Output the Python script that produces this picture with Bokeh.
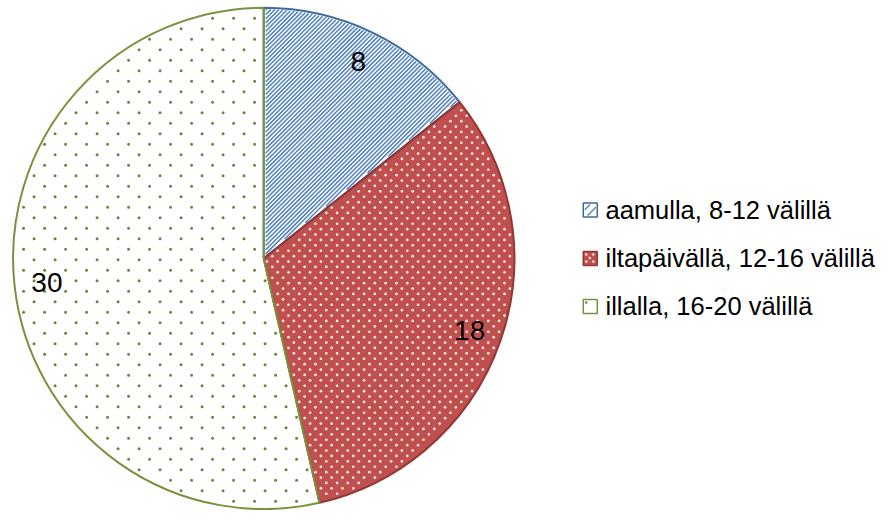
import math
import numpy as np
from bokeh.plotting import figure
from bokeh.core.properties import value
from bokeh.embed import file_html
from bokeh.resources import INLINE

categories = ["aamulla, 8-12 välillä", "iltapäivällä, 12-16 välillä", "illalla, 16-20 välillä"]
values = [8, 18, 30]
labels = ["8", "18", "30"]

W, H = 880, 510
SX, SY = W / 896, H / 526
CX, CY = 268 * SX, H - 266 * SY          # pie centre (data units == pixels)
R = 258.5 * SY
FONT = "Liberation Sans"

fill_colors = ["white", "#C0504D", "white"]
line_colors = ["#3F6A9E", "#943634", "#77933C"]
tex_colors = ["#4F81BD", "#FBE9E9", "#66863F"]
dot_sizes = [None, 2.7, 3.0]
dot_steps = [None, 10.8, 21.0]        # staggered dot lattice (None = diagonal stripes)
STRIPE_STEP = 4.2 / math.sqrt(2)

D = np.array([1.0, 1.0]) / math.sqrt(2)
N = np.array([-1.0, 1.0]) / math.sqrt(2)


def stripes(cx, cy, halfplanes, radius, extent, step):
    xs, ys = [], []
    for k in np.arange(-extent, extent, step):
        q0 = k * N
        lo, hi = -2 * extent, 2 * extent
        if radius is not None:
            if abs(k) >= radius:
                continue
            s = math.sqrt(radius ** 2 - k ** 2)
            lo, hi = -s, s
        for gx, gy, h in halfplanes:
            a = gx * q0[0] + gy * q0[1] - h
            b = gx * D[0] + gy * D[1]
            if abs(b) < 1e-12:
                if a > 0:
                    lo, hi = 1, 0
                continue
            t = -a / b
            if b > 0:
                hi = min(hi, t)
            else:
                lo = max(lo, t)
        if hi - lo > 0.5:
            p1, p2 = q0 + lo * D, q0 + hi * D
            xs.append([cx + p1[0], cx + p2[0]])
            ys.append([cy + p1[1], cy + p2[1]])
    return xs, ys


def lattice(x0, y0, x1, y1, step):
    pts = []
    j = 0
    y = y0
    while y >= y1:
        x = x0 + (step / 2 if j % 2 else 0)
        while x <= x1:
            pts.append((x, y))
            x += step
        y -= step / 2
        j += 1
    return np.array(pts)


p = figure(width=W, height=H, x_range=(0, W), y_range=(0, H), output_backend="svg",
           toolbar_location=None, min_border=0)
p.axis.visible = False
p.grid.visible = False
p.outline_line_color = None
p.background_fill_color = "white"

total = sum(values)
fracs = np.cumsum([0] + values) / total
angles = math.pi / 2 - 2 * math.pi * fracs

# wedge fills
for i in range(len(values)):
    p.wedge(x=CX, y=CY, radius=R, start_angle=angles[i], end_angle=angles[i + 1],
            direction="clock", fill_color=fill_colors[i], line_color=None)

# wedge textures
M = 2.0
for i in range(len(values)):
    if dot_steps[i] is None:
        u0 = (math.cos(angles[i]), math.sin(angles[i]))
        u1 = (math.cos(angles[i + 1]), math.sin(angles[i + 1]))
        hp = [(-u0[1], u0[0], -M), (u1[1], -u1[0], -M)]
        xs, ys = stripes(CX, CY, hp, R - 1.5, R, STRIPE_STEP)
        p.multi_line(xs, ys, line_color=tex_colors[i], line_width=1.5)
    else:
        pts = lattice(CX - R, CY + R, CX + R, CY - R, dot_steps[i])
        dx, dy = pts[:, 0] - CX, pts[:, 1] - CY
        dist = np.hypot(dx, dy)
        phi = np.mod(math.pi / 2 - np.arctan2(dy, dx), 2 * math.pi)
        f0, f1 = 2 * math.pi * fracs[i], 2 * math.pi * fracs[i + 1]
        safe = np.maximum(dist, 1e-6)
        ok = (dist < R - 2.5) & (phi > f0 + 2.5 / safe) & (phi < f1 - 2.5 / safe)
        p.scatter(pts[ok, 0], pts[ok, 1], size=dot_sizes[i], marker="circle",
                  fill_color=tex_colors[i], line_color=None)

# wedge outlines
for i in range(len(values)):
    p.wedge(x=CX, y=CY, radius=R, start_angle=angles[i], end_angle=angles[i + 1],
            direction="clock", fill_color=None, line_color=line_colors[i], line_width=2)

# value labels
LR = 225 * SY
for i, lab in enumerate(labels):
    mid = (angles[i] + angles[i + 1]) / 2
    p.text(x=[CX + LR * math.cos(mid)], y=[CY + LR * math.sin(mid)], text=[lab],
           text_align="center", text_baseline="middle", text_font=value(FONT),
           text_font_size="28px", text_color="black")

# legend
LX = 600.5 * SX
LYS = [H - 216 * SY, H - 266 * SY, H - 315.5 * SY]
S = 14
for i, cat in enumerate(categories):
    y = LYS[i]
    p.rect(x=[LX], y=[y], width=S, height=S, fill_color=fill_colors[i], line_color=None)
    hw = S / 2 - 1.5
    if dot_steps[i] is None:
        hp = [(1, 0, hw), (-1, 0, hw), (0, 1, hw), (0, -1, hw)]
        xs, ys = stripes(LX, y, hp, None, S, 6.0)
        p.multi_line(xs, ys, line_color=tex_colors[i], line_width=1.3)
    else:
        step = 7.0 if i == 1 else dot_steps[i]
        pts = lattice(LX - hw + 1.5, y + hw - 1.5, LX + hw, y - hw, step)
        ok = (np.abs(pts[:, 0] - LX) <= hw - 0.5) & (np.abs(pts[:, 1] - y) <= hw - 0.5)
        p.scatter(pts[ok, 0], pts[ok, 1], size=2.5, marker="circle",
                  fill_color=tex_colors[i], line_color=None)
    p.rect(x=[LX], y=[y], width=S, height=S, fill_color=None, line_color=line_colors[i],
           line_width=1.5)
    p.text(x=[616 * SX], y=[y], text=[cat], text_align="left", text_baseline="middle",
           text_font=value(FONT), text_font_size="25.5px", text_color="black")

open("out.html", "w").write(file_html(p, INLINE))
